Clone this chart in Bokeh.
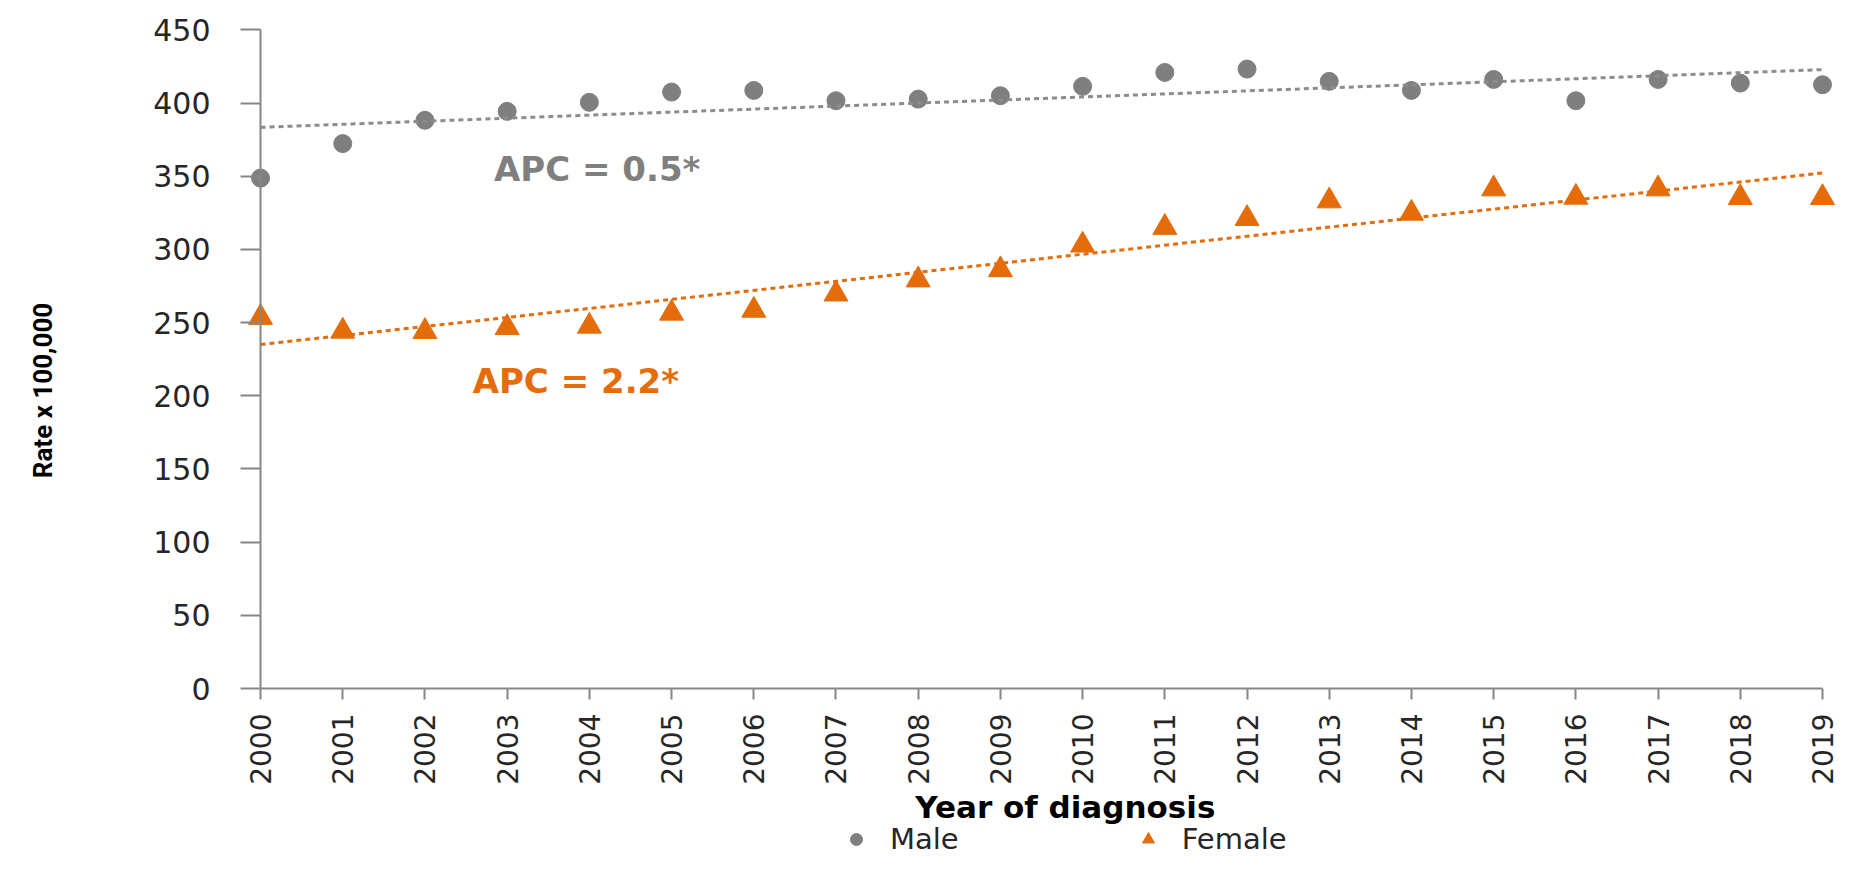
import math
from bokeh.plotting import figure
from bokeh.models import (Range1d, Label, Legend, LegendItem, FixedTicker,
                          LinearAxis)
from bokeh.embed import file_html
from bokeh.resources import INLINE

# ---------------- data ----------------
years = [2000, 2001, 2002, 2003, 2004, 2005, 2006, 2007, 2008, 2009,
         2010, 2011, 2012, 2013, 2014, 2015, 2016, 2017, 2018, 2019]
male = [348.7, 372.3, 388.2, 394.3, 400.5, 407.5, 408.6, 401.6, 402.7, 405.0,
        411.4, 420.9, 423.2, 414.8, 408.6, 416.1, 401.6, 416.1, 413.6, 412.5]
female = [253.5, 244.1, 243.9, 246.6, 247.5, 256.4, 258.4, 269.5, 279.1, 286.1,
          302.9, 315.0, 321.1, 333.1, 324.7, 341.3, 335.6, 341.3, 335.4, 335.4]
trend_years = [2000, 2019]
male_trend = [383.4, 422.8]
female_trend = [235.0, 352.2]
y_ticks = [0, 50, 100, 150, 200, 250, 300, 350, 400, 450]
series_names = ["Male", "Female"]
apc_texts = ["APC = 0.5*", "APC = 2.2*"]
x_title = "Year of diagnosis"
y_title = "Rate x 100,000"

# ---------------- style ----------------
GRAY = "#7f7f7f"
GRAY_TREND = "#8c8c8c"
ORANGE = "#e46c0a"
AXIS = "#868686"
TEXT = "#262626"
TICK_FONT = "DejaVu Sans"

# the frame covers the whole canvas; axes are placed at fixed data locations
p = figure(width=1840, height=857, output_backend="svg", toolbar_location=None,
           x_range=Range1d(1996.837, 2019.219), y_range=Range1d(-115.46, 470.04),
           x_axis_location=None, y_axis_location=None,
           min_border=0, min_border_left=0, min_border_right=0,
           min_border_top=0, min_border_bottom=0)
p.outline_line_color = None
p.grid.visible = False
p.background_fill_color = "white"
p.border_fill_color = "white"

r_m = p.scatter(years, male, marker="circle", size=18,
                fill_color=GRAY, line_color=GRAY)
r_f = p.scatter(years, female, marker="triangle", size=24,
                fill_color=ORANGE, line_color=ORANGE)

p.line(trend_years, male_trend, line_color=GRAY_TREND, line_width=3, line_dash="5 4")
p.line(trend_years, female_trend, line_color=ORANGE, line_width=3, line_dash="5 4")

ya = LinearAxis(fixed_location=years[0], bounds=(y_ticks[0], y_ticks[-1]),
                ticker=FixedTicker(ticks=y_ticks))
ya.axis_line_color = AXIS
ya.axis_line_width = 2
ya.major_tick_in = 0
ya.major_tick_out = 20
ya.major_tick_line_color = AXIS
ya.major_tick_line_width = 2
ya.minor_tick_line_color = None
ya.major_label_standoff = 30
ya.major_label_text_font = TICK_FONT
ya.major_label_text_font_size = "30px"
ya.major_label_text_color = TEXT
p.add_layout(ya, "left")

xa = LinearAxis(fixed_location=y_ticks[0], bounds=(years[0], years[-1]),
                ticker=FixedTicker(ticks=years))
xa.axis_line_color = AXIS
xa.axis_line_width = 2
xa.major_tick_in = 0
xa.major_tick_out = 11
xa.major_tick_line_color = AXIS
xa.major_tick_line_width = 2
xa.minor_tick_line_color = None
xa.major_label_orientation = math.pi / 2
xa.major_label_standoff = 14
xa.major_label_text_font = TICK_FONT
xa.major_label_text_font_size = "28px"
xa.major_label_text_color = TEXT
p.add_layout(xa, "below")

# axis titles
p.add_layout(Label(x=2009.79, y=-81.0, text=x_title, text_color="#000000",
                   text_font="DejaVu Sans", text_font_style="bold",
                   text_font_size="31px", text_baseline="middle", text_align="center"))
p.add_layout(Label(x=1997.36, y=203.6, text=y_title, text_color="#000000",
                   angle=math.pi / 2,
                   text_font="Roboto", text_font_style="bold",
                   text_font_size="26px", text_baseline="middle", text_align="center"))

# APC annotations
p.add_layout(Label(x=2002.84, y=354.6, text=apc_texts[0], text_color=GRAY,
                   text_font="DejaVu Sans", text_font_style="bold",
                   text_font_size="34px", text_baseline="middle", text_align="left"))
p.add_layout(Label(x=2002.58, y=210.3, text=apc_texts[1], text_color=ORANGE,
                   text_font="DejaVu Sans", text_font_style="bold",
                   text_font_size="34px", text_baseline="middle", text_align="left"))

legend = Legend(items=[LegendItem(label=series_names[0], renderers=[r_m]),
                       LegendItem(label=series_names[1], renderers=[r_f])],
                orientation="horizontal", location=(841, 1),
                border_line_color=None, background_fill_alpha=0,
                padding=0, margin=0, spacing=174, label_standoff=19,
                glyph_width=30, glyph_height=30,
                label_text_font="DejaVu Sans", label_text_font_size="29px",
                label_text_color=TEXT)
p.add_layout(legend)

open("out.html", "w").write(file_html(p, INLINE))
